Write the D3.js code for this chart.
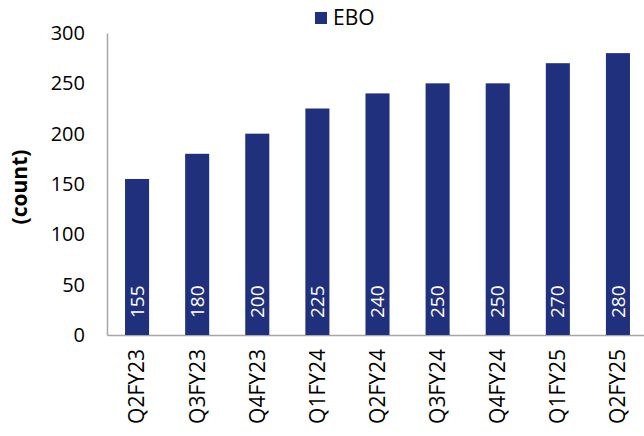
<!DOCTYPE html>
<html>
<head>
<meta charset="utf-8">
<script src="https://cdn.jsdelivr.net/npm/d3@7"></script>
<style>
  body { margin: 0; background: #fff; }
  text { font-family: "Open Sans", sans-serif; }
</style>
</head>
<body>
<div id="chart"></div>
<script>
// Chart data.
const quarters = ["Q2FY23", "Q3FY23", "Q4FY23", "Q1FY24", "Q2FY24", "Q3FY24", "Q4FY24", "Q1FY25", "Q2FY25"];
const ebo = [155, 180, 200, 225, 240, 250, 250, 270, 280];
const yTicks = [0, 50, 100, 150, 200, 250, 300];

const totalWidth = 644;
const totalHeight = 436;
const margin = {top: 33, right: -4, bottom: 101, left: 107};
const width = totalWidth - margin.left - margin.right;
const height = totalHeight - margin.top - margin.bottom;
const barColor = "#21307c";

const svg = d3.select("#chart")
  .append("svg")
  .attr("width", totalWidth)
  .attr("height", totalHeight)
  .append("g")
  .attr("transform", `translate(${margin.left}, ${margin.top})`);

const x = d3.scaleBand().domain(quarters).range([0, width]).paddingInner(0.6).paddingOuter(0.3);
const y = d3.scaleLinear().domain([0, 300]).range([height, 0]);

// Y axis
const yAxis = svg.append("g")
  .call(d3.axisLeft(y).tickValues(yTicks).tickSize(0).tickPadding(22));
yAxis.select(".domain").attr("stroke", "#a6a6a6").attr("stroke-width", 1.5);
yAxis.selectAll("text").style("font-size", "20px").attr("fill", "#000");

// X axis
const xAxis = svg.append("g")
  .attr("transform", `translate(0, ${height})`)
  .call(d3.axisBottom(x).tickSize(0));
xAxis.select(".domain").attr("stroke", "#a6a6a6").attr("stroke-width", 1.5);
xAxis.selectAll("text")
  .style("font-size", "21px")
  .attr("fill", "#000")
  .attr("transform", "rotate(-90)")
  .attr("text-anchor", "end")
  .attr("x", -14)
  .attr("y", 0)
  .attr("dy", "0.35em");

// Bars
svg.selectAll(".bar")
  .data(ebo)
  .join("rect")
    .attr("class", "bar")
    .attr("x", (d, i) => x(quarters[i]))
    .attr("y", d => y(d))
    .attr("width", x.bandwidth())
    .attr("height", d => height - y(d))
    .attr("fill", barColor);

// Value labels
svg.selectAll(".val")
  .data(ebo)
  .join("text")
    .attr("class", "val")
    .attr("transform", (d, i) => `translate(${x(quarters[i]) + x.bandwidth() / 2}, ${height - 17}) rotate(-90)`)
    .attr("dy", "0.35em")
    .attr("fill", "#fff")
    .style("font-size", "19px")
    .text(d => d);

// Y title
svg.append("text")
  .attr("transform", `translate(${-87}, ${height / 2 + 3}) rotate(-90)`)
  .attr("text-anchor", "middle")
  .attr("dy", "0.35em")
  .style("font-size", "21px")
  .style("font-weight", "bold")
  .text("(count)");

// Legend
const legend = svg.append("g").attr("transform", `translate(${315 - margin.left}, ${-15})`);
legend.append("rect").attr("x", 0).attr("y", -6).attr("width", 12).attr("height", 12).attr("fill", barColor);
legend.append("text").attr("x", 18).attr("y", 0).attr("dy", "0.35em").style("font-size", "21px").text("EBO");
</script>
</body>
</html>
